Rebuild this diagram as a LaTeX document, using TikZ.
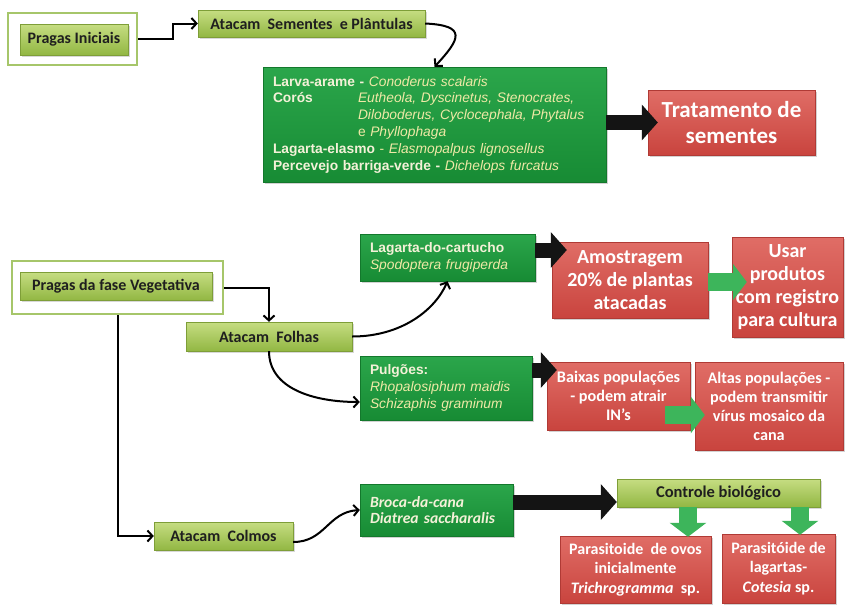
\documentclass[tikz,border=0pt]{standalone}
\usepackage{fontspec}
\setmainfont{Carlito}
\newfontfamily\arialfont{Liberation Sans}
\usetikzlibrary{arrows.meta}
\usetikzlibrary{shadows}
\usetikzlibrary{calc}
\definecolor{lgtop}{HTML}{C6DD82}
\definecolor{lgbot}{HTML}{92B743}
\definecolor{lgline}{HTML}{7E9E38}
\definecolor{frameline}{HTML}{A6C66A}
\definecolor{dgtop}{HTML}{2BA64B}
\definecolor{dgbot}{HTML}{178B34}
\definecolor{dgline}{HTML}{13782C}
\definecolor{rdtop}{HTML}{E06D66}
\definecolor{rdbot}{HTML}{C9443E}
\definecolor{rdline}{HTML}{B03A35}
\definecolor{creme}{HTML}{F4F1D8}
\definecolor{amarelo}{HTML}{EFE9A6}
\definecolor{setaverde}{HTML}{3DB55B}
\newcommand{\especie}[1]{\textcolor{amarelo}{\textit{#1}}}
\tikzset{
	framestyle/.style={rectangle,draw=frameline,line width=2.5pt,fill=white},
	lightstyle/.style={rectangle,draw=lgline,top color=lgtop,bottom color=lgbot,inner sep=0pt,
		text=black!88,font=\bfseries\fontsize{16}{18}\selectfont,
		drop shadow={opacity=0.3,shadow xshift=1.5pt,shadow yshift=-1.5pt}},
	darkstyle/.style={rectangle,draw=dgline,top color=dgtop,bottom color=dgbot,inner xsep=10pt,inner ysep=0pt,
		text=creme,align=left,font=\arialfont\fontsize{13.8}{16.8}\selectfont,
		drop shadow={opacity=0.35,shadow xshift=1.5pt,shadow yshift=-1.5pt}},
	redstyle/.style={rectangle,draw=rdline,top color=rdtop,bottom color=rdbot,inner sep=0pt,
		text=white,align=center,
		drop shadow={opacity=0.35,shadow xshift=1.5pt,shadow yshift=-1.5pt}},
	conn/.style={line width=2pt,black,-{Straight Barb[length=5pt,width=11pt]}},
	blkarrow/.style={line width=15pt,draw=black!92,-{Triangle[width=35pt,length=16pt]}},
	grnarrow/.style={line width=18pt,draw=setaverde,-{Triangle[width=36pt,length=14pt]}}
}
\begin{document}
\begin{tikzpicture}[x=1pt,y=-1pt]
		\fill[white] (0,0) rectangle (845,605);
		\useasboundingbox (0,0) rectangle (845,605);
		% pragas iniciais
		\node[framestyle,minimum width=129,minimum height=52] (iniFrame) at (72.5,39) {};
		\node[lightstyle,minimum width=108,minimum height=31] (ini) at (74,39.5) {Pragas Iniciais};
		\node[lightstyle,minimum width=227,minimum height=27] (sem) at (311.5,23.5) {Atacam\ \ Sementes\ \ e Plântulas};
		\node[darkstyle,text width=323,minimum height=115] (larvas) at (434.5,124.5) {%
			\textbf{Larva-arame -} \especie{Conoderus scalaris}\\
			\makebox[85pt][l]{\textbf{Corós}}\especie{Eutheola, Dyscinetus, Stenocrates,}\\
			\hspace*{85pt}\especie{Diloboderus, Cyclocephala, Phytalus}\\
			\hspace*{85pt}\textcolor{amarelo}{e} \especie{Phyllophaga}\\
			\textbf{Lagarta-elasmo} \textcolor{amarelo}{-} \especie{Elasmopalpus lignosellus}\\
			\textbf{Percevejo barriga-verde -} \especie{Dichelops furcatus}};
		\node[redstyle,minimum width=167,minimum height=65,font=\bfseries\fontsize{23}{26}\selectfont] (trat) at (731.5,122.5) {Tratamento de\\sementes};
		% fase vegetativa
		\node[framestyle,minimum width=211,minimum height=53] (vegFrame) at (117.5,287.5) {};
		\node[lightstyle,minimum width=192,minimum height=28] (veg) at (116,286) {Pragas da fase Vegetativa};
		\node[lightstyle,minimum width=166,minimum height=29] (folhas) at (269,336.5) {Atacam\ \ Folhas};
		\node[darkstyle,text width=155,minimum height=47] (cartucho) at (447.5,257.5) {%
			\textbf{Lagarta-do-cartucho}\\
			\especie{Spodoptera frugiperda}};
		\node[redstyle,minimum width=156,minimum height=76,font=\bfseries\fontsize{20}{23}\selectfont] (amostra) at (630,280) {Amostragem\\20\% de plantas\\atacadas};
		\node[redstyle,minimum width=111,minimum height=100,font=\bfseries\fontsize{20}{23}\selectfont] (usar) at (787.5,287) {Usar\\produtos\\com registro\\para cultura};
		\node[darkstyle,text width=152,minimum height=64] (pulgoes) at (446,388) {%
			\textbf{Pulgões:}\\
			\especie{Rhopalosiphum maidis}\\
			\especie{Schizaphis graminum}};
		\node[redstyle,minimum width=143,minimum height=68,font=\bfseries\fontsize{16.2}{19}\selectfont] (baixas) at (618.5,396) {Baixas populações\\- podem atrair\\IN’s};
		\node[redstyle,minimum width=148,minimum height=88,font=\bfseries\fontsize{16.2}{19}\selectfont] (altas) at (769,406) {Altas populações -\\podem transmitir\\vírus mosaico da\\cana};
		% colmos
		\node[lightstyle,minimum width=139,minimum height=28] (colmos) at (223.5,536) {Atacam\ \ Colmos};
		\node[darkstyle,text width=133,minimum height=52,font=\bfseries\itshape\fontsize{15.6}{16.5}\selectfont] (broca) at (436.5,510) {%
			Broca-da-cana\\
			Diatrea saccharalis};
		\node[lightstyle,minimum width=203,minimum height=28,font=\bfseries\fontsize{16.5}{18}\selectfont] (controle) at (718.5,493) {Controle biológico};
		\node[redstyle,minimum width=151,minimum height=67,font=\bfseries\fontsize{16}{19.5}\selectfont] (ovos) at (635.5,569.5) {Parasitoide\ \ de ovos\\inicialmente\\\textit{Trichrogramma}\ \ sp.};
		\node[redstyle,minimum width=113,minimum height=69,font=\bfseries\fontsize{16}{19.5}\selectfont] (lagartas) at (778.5,568.5) {Parasitóide de\\lagartas-\\\textit{Cotesia} sp.};
		% ligacoes
		\draw[conn] (iniFrame.east) -- ++(35,0) |- (sem.west);
		\draw[conn] (sem.east) .. controls +(42,2) and +(26,-28) .. (larvas.north);
		\draw[blkarrow,shorten >=-10pt] (larvas.east |- trat.west) -- (trat.west);
		\draw[conn] (vegFrame.east) -| (folhas.north);
		\draw[conn] (vegFrame.south) |- (colmos.west);
		\draw[conn] (folhas.east) .. controls +(50,0) and +(-12,28) .. (cartucho.south);
		\draw[conn] (folhas.south) .. controls +(0,38) and +(-45,0) .. ($(pulgoes.west)+(0,14)$);
		\draw[blkarrow] ($(cartucho.east)+(0,-7.5)$) -- ($(amostra.west)+(15,-30)$);
		\draw[grnarrow] ($(amostra.east)+(0,2)$) -- ($(usar.west)+(15,-5)$);
		\draw[blkarrow] ($(pulgoes.east)+(0,-18)$) -- ($(baixas.west)+(10,-26)$);
		\draw[grnarrow] ($(baixas.east)+(-25,19)$) -- ($(altas.west)+(10,9)$);
		\draw[conn] ($(colmos.east)+(0,6)$) .. controls +(32,0) and +(-32,2) .. (broca.west);
		\draw[blkarrow] ($(broca.east)+(0,-8)$) -- ($(controle.west)+(0,9)$);
		\draw[grnarrow] ($(controle.south)+(-30.5,0)$) -- ($(ovos.north)+(52.5,1)$);
		\draw[grnarrow] ($(controle.south)+(81.5,0)$) -- ($(lagartas.north)+(21.5,1)$);
		\end{tikzpicture}
\end{document}
